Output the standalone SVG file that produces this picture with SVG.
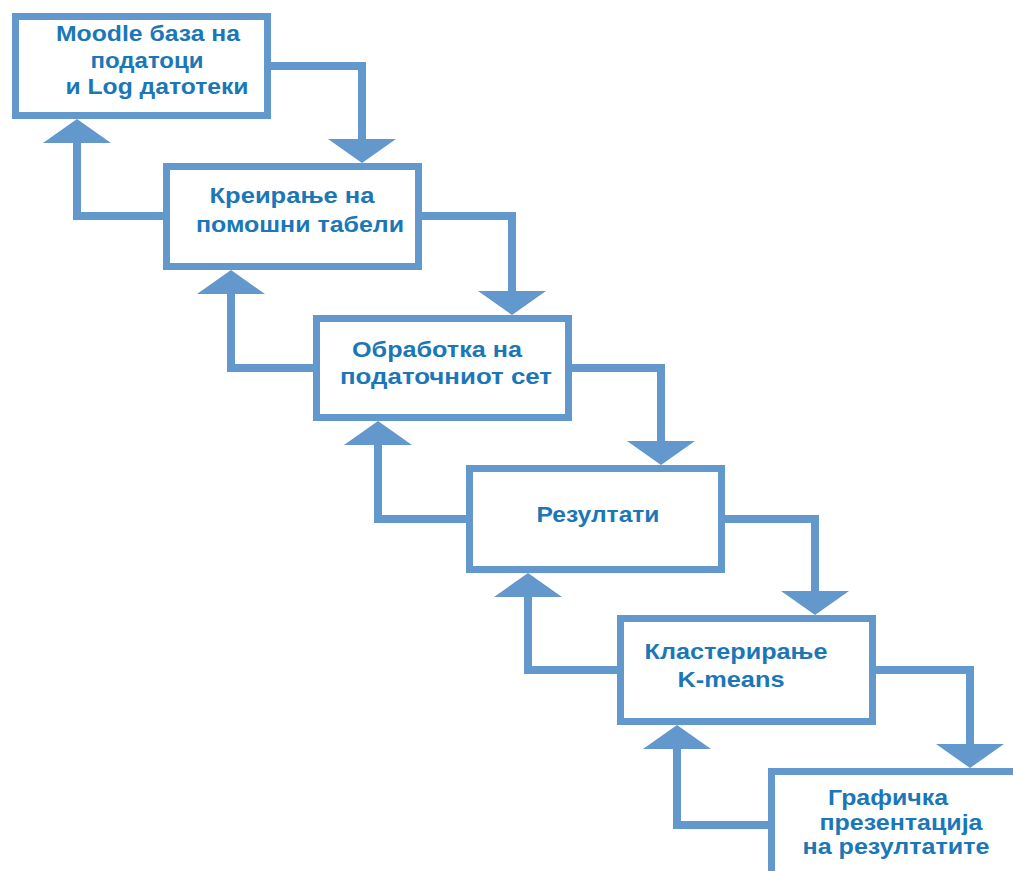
<svg xmlns="http://www.w3.org/2000/svg" width="1013" height="871" viewBox="0 0 1013 871">
<style>
.box{fill:#ffffff;stroke:#6298cc;stroke-width:7}
.ln{fill:none;stroke:#6298cc;stroke-width:8;stroke-linejoin:miter}
.ah{fill:#6298cc}
.t{font-family:"Liberation Sans",Arial,sans-serif;font-weight:bold;font-size:22px;fill:#1b77b8;text-anchor:middle}
</style>
<rect width="1013" height="871" fill="#ffffff"/>
<g id="connectors">
<polyline class="ln" points="271,66 362,66 362,141"/>
<polygon class="ah" points="328,139 396,139 362,163"/>
<polyline class="ln" points="422,216 512,216 512,293"/>
<polygon class="ah" points="478,291 546,291 512,315"/>
<polyline class="ln" points="572,368 661,368 661,443"/>
<polygon class="ah" points="627,441 695,441 661,465"/>
<polyline class="ln" points="725,519 815,519 815,593"/>
<polygon class="ah" points="781,591 849,591 815,615"/>
<polyline class="ln" points="876,670 970,670 970,746"/>
<polygon class="ah" points="936,744 1004,744 970,768"/>
<polyline class="ln" points="163,216 77,216 77,141"/>
<polygon class="ah" points="43,143 111,143 77,119"/>
<polyline class="ln" points="313,368 231,368 231,292"/>
<polygon class="ah" points="197,294 265,294 231,270"/>
<polyline class="ln" points="466,519 378,519 378,443"/>
<polygon class="ah" points="344,445 412,445 378,421"/>
<polyline class="ln" points="617,670 528,670 528,595"/>
<polygon class="ah" points="494,597 562,597 528,573"/>
<polyline class="ln" points="768,825 677,825 677,747"/>
<polygon class="ah" points="643,749 711,749 677,725"/>
</g>
<g id="n1">
<rect class="box" x="15.5" y="16.5" width="252" height="99"/>
<text class="t" x="148" y="41" textLength="184" lengthAdjust="spacingAndGlyphs">Moodle база на</text>
<text class="t" x="147" y="68" textLength="113" lengthAdjust="spacingAndGlyphs">податоци</text>
<text class="t" x="157" y="94" textLength="183" lengthAdjust="spacingAndGlyphs">и Log датотеки</text>
</g>
<g id="n2">
<rect class="box" x="166.5" y="166.5" width="252" height="100"/>
<text class="t" x="292" y="203" textLength="165" lengthAdjust="spacingAndGlyphs">Креирање на</text>
<text class="t" x="300" y="232" textLength="208" lengthAdjust="spacingAndGlyphs">помошни табели</text>
</g>
<g id="n3">
<rect class="box" x="316.5" y="318.5" width="252" height="99"/>
<text class="t" x="437" y="357" textLength="170" lengthAdjust="spacingAndGlyphs">Обработка на</text>
<text class="t" x="446" y="384" textLength="212" lengthAdjust="spacingAndGlyphs">податочниот сет</text>
</g>
<g id="n4">
<rect class="box" x="469.5" y="468.5" width="252" height="101"/>
<text class="t" x="598" y="522" textLength="123" lengthAdjust="spacingAndGlyphs">Резултати</text>
</g>
<g id="n5">
<rect class="box" x="620.5" y="618.5" width="252" height="103"/>
<text class="t" x="736" y="659" textLength="183" lengthAdjust="spacingAndGlyphs">Кластерирање</text>
<text class="t" x="731" y="687" textLength="107" lengthAdjust="spacingAndGlyphs">K-means</text>
</g>
<g id="n6">
<rect class="box" x="771.5" y="771.5" width="252" height="103"/>
<text class="t" x="888" y="805" textLength="120" lengthAdjust="spacingAndGlyphs">Графичка</text>
<text class="t" x="901" y="830" textLength="163" lengthAdjust="spacingAndGlyphs">презентација</text>
<text class="t" x="896" y="854" textLength="187" lengthAdjust="spacingAndGlyphs">на резултатите</text>
</g>
</svg>
